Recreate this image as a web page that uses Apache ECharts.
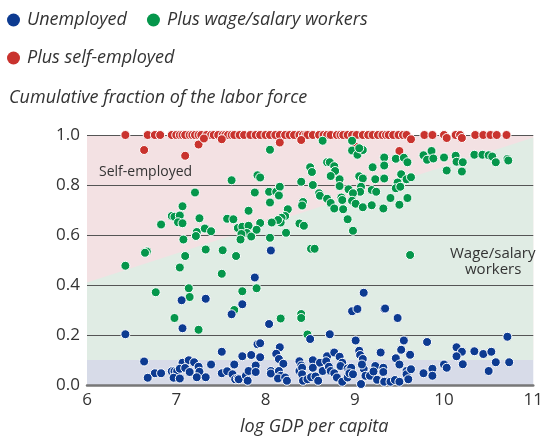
<!DOCTYPE html>
<html>
<head>
<meta charset="utf-8">
<script src="https://cdn.jsdelivr.net/npm/echarts@6/dist/echarts.min.js"></script>
<style>
  html, body { margin: 0; background: #fff; }
  #chart { width: 546px; height: 441px; }
</style>
</head>
<body>
<div id="chart"></div>
<script>
// x = log GDP per capita, y = cumulative fraction of the labor force
var seriesNames = ['Unemployed', 'Plus wage/salary workers', 'Plus self-employed'];

var unemployedPts = [
  [8.06,0.538],[7.06,0.339],[7.33,0.345],[7.62,0.283],[6.43,0.203],[7.07,0.227],[7.51,0.133],[6.64,0.094],
  [6.76,0.047],[6.83,0.047],[6.68,0.029],[6.95,0.055],[6.98,0.055],[7.01,0.055],[6.97,0.029],[7.04,0.026],
  [7.07,0.089],[7.14,0.099],[7.20,0.091],[7.04,0.065],[7.10,0.068],[7.15,0.052],[7.25,0.073],[7.26,0.053],
  [7.23,0.031],[7.33,0.031],[7.39,0.082],[7.51,0.047],[7.57,0.055],[7.65,0.082],[7.63,0.043],[7.66,0.023],
  [7.88,0.430],[7.74,0.323],[8.04,0.244],[8.50,0.184],[8.72,0.203],[9.10,0.369],[8.97,0.295],[9.03,0.304],
  [9.33,0.304],[9.01,0.178],[9.05,0.137],[9.06,0.120],[9.09,0.104],[9.29,0.130],[7.91,0.163],[7.94,0.167],
  [8.16,0.151],[8.12,0.125],[8.15,0.104],[7.74,0.115],[7.84,0.120],[7.94,0.111],[7.89,0.078],[8.20,0.085],
  [8.38,0.095],[8.40,0.078],[8.53,0.099],[8.61,0.089],[8.69,0.115],[8.68,0.095],[8.77,0.130],[8.83,0.113],
  [8.86,0.089],[8.84,0.076],[8.92,0.066],[8.94,0.060],[8.96,0.069],[9.10,0.065],[9.08,0.082],[9.23,0.076],
  [9.32,0.069],[7.69,0.026],[7.70,0.023],[7.78,0.037],[7.80,0.017],[7.81,0.056],[7.89,0.052],[8.06,0.056],
  [8.06,0.046],[8.15,0.056],[8.17,0.037],[8.14,0.026],[8.22,0.030],[8.24,0.017],[8.38,0.056],[8.41,0.069],
  [8.41,0.043],[8.42,0.017],[8.47,0.023],[8.51,0.031],[8.53,0.069],[8.56,0.034],[8.59,0.017],[8.64,0.056],
  [8.71,0.073],[8.73,0.056],[8.77,0.047],[8.80,0.030],[8.86,0.013],[8.92,0.030],[8.94,0.047],[8.98,0.043],
  [9.07,0.004],[9.12,0.037],[9.17,0.037],[9.21,0.054],[9.25,0.021],[9.32,0.052],[9.33,0.017],
  [9.34,0.306],[9.48,0.268],[10.71,0.193],[9.55,0.178],[9.81,0.172],[9.52,0.141],[9.62,0.121],[9.46,0.107],
  [9.50,0.082],[9.58,0.056],[9.58,0.043],[9.63,0.063],[9.60,0.023],[9.33,0.013],[9.40,0.013],[9.45,0.020],
  [9.50,0.013],[9.77,0.047],[9.87,0.065],[9.87,0.037],[10.00,0.082],[10.03,0.069],[10.14,0.151],[10.20,0.133],
  [10.14,0.115],[10.21,0.083],[10.34,0.135],[10.44,0.124],[10.53,0.133],[10.58,0.091],[10.50,0.056],[10.73,0.091]
];

var wagePts = [
  [7.62,0.819],[7.21,0.770],[7.07,0.715],[6.95,0.676],[6.98,0.673],[7.04,0.678],[6.83,0.642],[7.02,0.651],
  [7.07,0.647],[7.26,0.667],[7.57,0.665],[7.64,0.663],[7.23,0.612],[7.22,0.596],[7.32,0.626],[7.39,0.615],
  [7.08,0.582],[6.67,0.534],[6.65,0.529],[7.10,0.516],[7.33,0.542],[7.52,0.539],[7.67,0.516],
  [8.64,0.977],[8.97,0.977],[8.05,0.941],[8.97,0.938],[9.03,0.921],[9.09,0.940],[9.05,0.947],[8.50,0.871],
  [8.52,0.852],[8.69,0.891],[8.72,0.891],[8.77,0.875],[8.78,0.856],[8.73,0.836],[8.83,0.823],[9.20,0.871],
  [9.33,0.910],[7.91,0.839],[7.94,0.830],[8.40,0.813],[8.53,0.800],[8.83,0.796],[8.93,0.783],[9.05,0.835],
  [9.09,0.826],[9.23,0.823],[9.33,0.826],[9.07,0.793],[9.06,0.773],[9.19,0.780],[9.24,0.773],[8.98,0.767],
  [7.88,0.770],[8.04,0.773],[8.12,0.773],[8.16,0.793],[8.15,0.758],[8.05,0.730],[8.60,0.767],[8.61,0.757],
  [8.69,0.745],[8.73,0.728],[8.85,0.750],[8.86,0.740],[8.97,0.737],[9.01,0.725],[9.09,0.711],[9.19,0.719],
  [9.32,0.706],[8.42,0.732],[8.41,0.718],[8.77,0.706],[8.87,0.703],[7.81,0.697],[8.25,0.703],[8.22,0.676],
  [8.18,0.669],[8.17,0.650],[8.14,0.660],[8.07,0.650],[7.94,0.648],[8.92,0.663],[8.38,0.646],[8.43,0.637],
  [7.69,0.628],[7.74,0.633],[7.81,0.637],[7.79,0.608],[7.73,0.604],[7.84,0.594],[7.90,0.621],[7.72,0.582],
  [8.05,0.589],[8.23,0.609],[8.98,0.617],[8.51,0.545],[8.55,0.545],
  [9.46,0.905],[9.55,0.909],[9.59,0.891],[9.33,0.878],[9.77,0.919],[9.86,0.936],[9.81,0.901],[9.88,0.906],
  [10.00,0.910],[10.13,0.917],[10.14,0.893],[10.21,0.891],[10.03,0.858],[10.20,0.854],[10.34,0.921],[10.43,0.921],
  [10.50,0.919],[10.54,0.914],[10.58,0.891],[10.71,0.904],[10.72,0.898],[9.52,0.843],[9.58,0.823],[9.63,0.831],
  [9.48,0.810],[9.46,0.787],[9.51,0.793],[9.40,0.748],[9.59,0.748],[9.50,0.721],[9.62,0.520],
  [6.43,0.477],[7.04,0.470],[7.51,0.445],[6.77,0.371],[7.14,0.387],[7.15,0.352],[6.98,0.268],[7.25,0.221],
  [7.65,0.300],[7.74,0.375],[7.90,0.387],[8.17,0.266],[8.40,0.284],[8.40,0.268],[8.47,0.202]
];

// self-employed: most countries sit at 1.0
var selfAtOneX = [
  6.43,6.68,6.76,6.82,6.95,7.00,7.04,7.07,7.10,7.15,7.18,7.21,7.25,7.28,7.34,7.39,7.42,7.47,7.52,7.55,
  7.58,7.62,7.65,7.71,7.76,7.83,7.89,7.94,8.00,8.05,8.11,8.16,8.22,8.27,8.32,8.38,8.42,8.45,8.47,8.53,
  8.60,8.65,8.69,8.73,8.80,8.84,8.87,8.92,8.97,9.02,9.09,9.15,9.20,9.26,9.31,9.35,9.38,9.43,9.49,9.54,
  9.58,9.78,9.87,10.00,10.13,10.18,10.35,10.44,10.52,10.59,10.70
];
var selfBelowPts = [
  [6.64,0.940],[7.10,0.917],[7.25,0.962],[7.31,0.986],[7.51,0.983],[8.16,0.970],[8.40,0.980],
  [9.01,0.953],[9.50,0.936],[9.63,0.983],[10.03,0.988],[10.20,0.988]
];

// shaded bands behind the points
var unemployedBandTop = 0.1;
var wageBoundary = [[6, 0.41], [11, 0.99]];

var colors = { unemp: '#0d3b91', wage: '#05964b', self: '#c9332e' };

var selfPts = selfAtOneX.map(function (x) { return [x, 1]; }).concat(selfBelowPts);

var regions = [
  { fill: '#f3e1e3', pts: [[6, unemployedBandTop], [11, unemployedBandTop], [11, 1], [6, 1]] },
  { fill: '#e0ece4', pts: [[6, unemployedBandTop], [11, unemployedBandTop], wageBoundary[1], wageBoundary[0]] },
  { fill: '#d7dbe8', pts: [[6, 0], [11, 0], [11, unemployedBandTop], [6, unemployedBandTop]] }
];

var myChart = echarts.init(document.getElementById('chart'));

function dots(name, data, color) {
  return {
    name: name,
    type: 'scatter',
    data: data,
    symbolSize: 9,
    itemStyle: { color: color, opacity: 1, borderColor: '#fff', borderWidth: 1 },
    emphasis: { disabled: true }
  };
}

var option = {
  animation: false,
  textStyle: { fontFamily: 'Open Sans' },
  title: {
    text: 'Cumulative fraction of the labor force',
    left: 4, top: 84,
    textStyle: { fontSize: 18, fontStyle: 'italic', fontWeight: 'normal', color: '#333' }
  },
  legend: {
    data: seriesNames,
    left: 7, top: 11, width: 420,
    padding: 0,
    itemWidth: 13, itemHeight: 13, itemGap: 20,
    icon: 'circle',
    itemStyle: { borderWidth: 0 },
    textStyle: { fontSize: 18, fontStyle: 'italic', color: '#333', padding: [0, 0, 0, 2] }
  },
  grid: { left: 87, right: 6, top: 135, bottom: 50 },
  xAxis: {
    type: 'value', min: 6, max: 11, interval: 1,
    name: 'log GDP per capita', nameLocation: 'middle', nameGap: 33,
    nameTextStyle: { fontSize: 18, fontStyle: 'italic', color: '#333', padding: [0, 0, 0, 8] },
    axisLine: { onZero: false, lineStyle: { color: '#777', width: 2.5 } },
    axisTick: { show: false },
    splitLine: { show: false },
    axisLabel: { fontSize: 17, color: '#333', margin: 7 }
  },
  yAxis: {
    type: 'value', min: 0, max: 1, interval: 0.2,
    axisLine: { show: false },
    axisTick: { show: false },
    splitLine: { lineStyle: { color: '#555', width: 1 } },
    axisLabel: { fontSize: 17, color: '#333', margin: 7, formatter: function (v) { return v.toFixed(1); } }
  },
  graphic: [
    { type: 'text', left: 99, top: 165, style: { text: 'Self-employed', fontSize: 14, fill: '#333', fontFamily: 'Open Sans' } },
    { type: 'text', left: 450, top: 246, style: { text: 'Wage/salary', fontSize: 15, fill: '#333', fontFamily: 'Open Sans' } },
    { type: 'text', left: 465, top: 262, style: { text: 'workers', fontSize: 15, fill: '#333', fontFamily: 'Open Sans' } }
  ],
  series: [
    {
      type: 'custom',
      z: -1,
      silent: true,
      data: regions.map(function (r) { return r.pts[0]; }),
      renderItem: function (params, api) {
        var r = regions[params.dataIndex];
        return {
          type: 'polygon',
          shape: { points: r.pts.map(function (p) { return api.coord(p); }) },
          style: { fill: r.fill }
        };
      }
    },
    dots(seriesNames[2], selfPts, colors.self),
    dots(seriesNames[1], wagePts, colors.wage),
    dots(seriesNames[0], unemployedPts, colors.unemp)
  ]
};

myChart.setOption(option);
</script>
</body>
</html>
